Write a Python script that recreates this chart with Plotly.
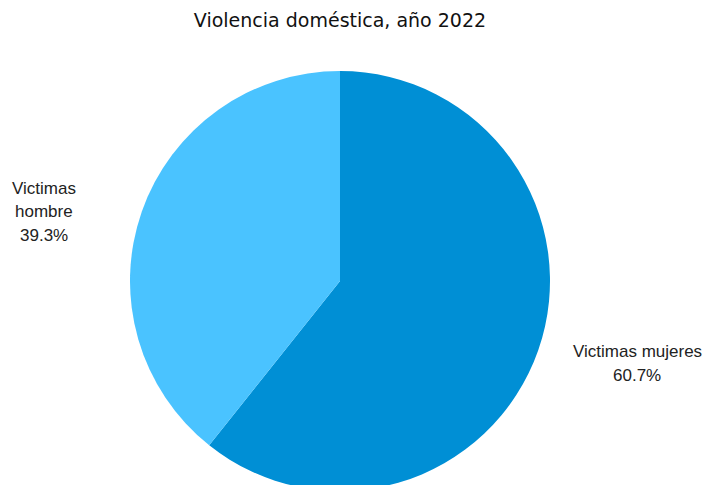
import plotly.graph_objects as go

categories = ["Victimas mujeres", "Victimas hombre"]
values = [60.7, 39.3]
colors = ["#008FD5", "#4AC3FF"]
title_text = "Violencia doméstica, año 2022"

# label lines for outside labels
label_lines = {
    "Victimas mujeres": ["Victimas mujeres"],
    "Victimas hombre": ["Victimas", "hombre"],
}

W, H = 704, 491  # slightly taller than window; bottom of pie is cropped like reference
T, B = 71, 0

fig = go.Figure(go.Pie(
    labels=categories,
    values=values,
    marker=dict(colors=colors, line=dict(width=0)),
    sort=False,
    direction="clockwise",
    rotation=0,
    textinfo="none",
    hoverinfo="label+percent",
    showlegend=False,
    domain=dict(x=[0, 340 * 2 / W], y=[0, 1]),
))

def py(ypx):
    return 1 - (ypx - T) / (H - T - B)

def px(xpx):
    return xpx / W

label_pos = {
    "Victimas mujeres": (637, 351),
    "Victimas hombre": (44, 188),
}
line_gap = 24
annotations = []
for cat, val in zip(categories, values):
    x0, y0 = label_pos[cat]
    lines = label_lines[cat] + [f"{val:.1f}%"]
    for i, ln in enumerate(lines):
        annotations.append(dict(
            text=ln, x=px(x0), y=py(y0 + i * line_gap), xref="paper", yref="paper",
            showarrow=False, xanchor="center", yanchor="middle",
            font=dict(family="Liberation Sans, Arial", size=17, color="#222222"),
        ))

fig.update_layout(
    width=W, height=H,
    margin=dict(l=0, r=0, t=T, b=B),
    paper_bgcolor="white",
    title=dict(text=title_text, x=px(340), xanchor="center", y=1 - 20 / H, yanchor="middle",
               font=dict(family="DejaVu Sans", size=19, color="#111111")),
    annotations=annotations,
)

fig.write_html(
    "out.html",
    config={"displayModeBar": False},
    post_script="document.body.style.margin='0';document.body.style.overflow='hidden';",
)
